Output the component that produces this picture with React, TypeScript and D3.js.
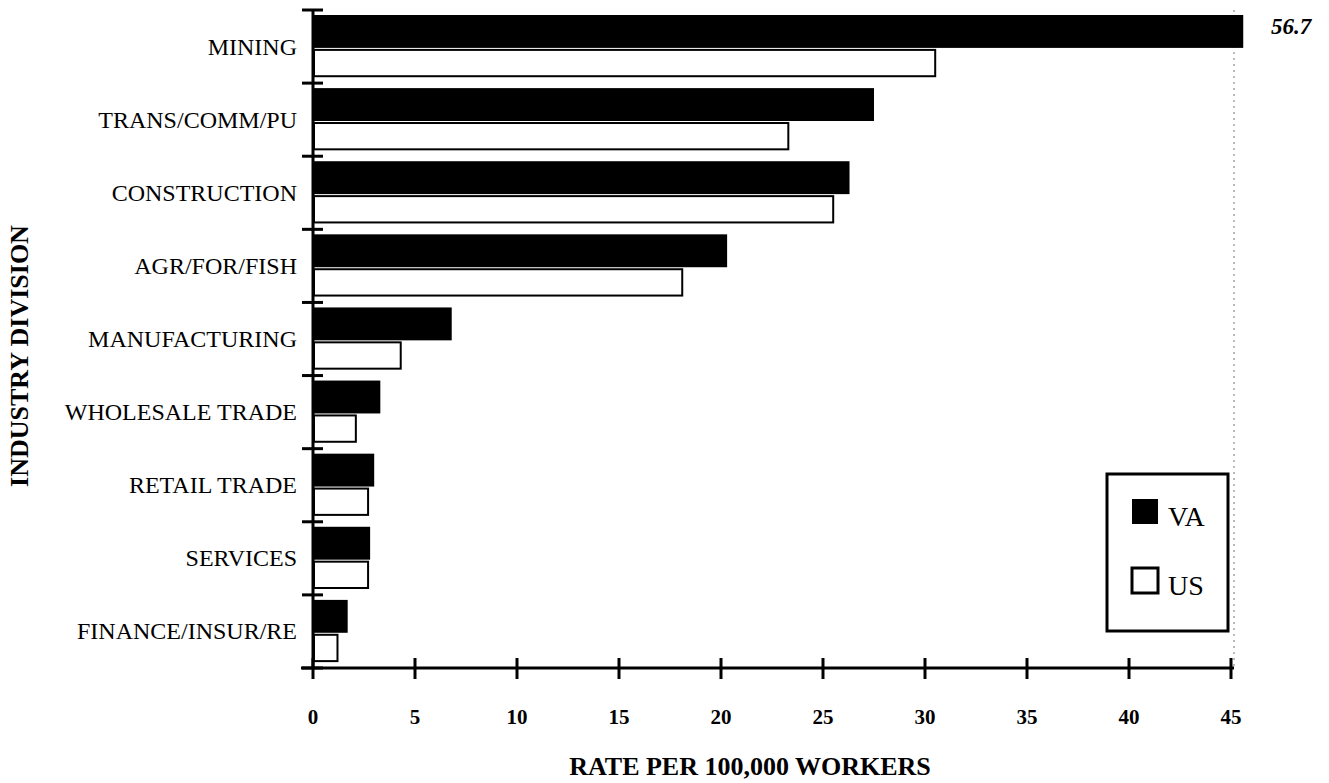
import React from 'react';
import * as d3 from 'd3';

const categories = [
  'MINING',
  'TRANS/COMM/PU',
  'CONSTRUCTION',
  'AGR/FOR/FISH',
  'MANUFACTURING',
  'WHOLESALE TRADE',
  'RETAIL TRADE',
  'SERVICES',
  'FINANCE/INSUR/RE',
];
const vaRates = [56.7, 27.5, 26.3, 20.3, 6.8, 3.3, 3.0, 2.8, 1.7];
const usRates = [30.5, 23.3, 25.5, 18.1, 4.3, 2.1, 2.7, 2.7, 1.2];
const xTicks = [0, 5, 10, 15, 20, 25, 30, 35, 40, 45];
const seriesNames = ['VA', 'US'];

const W = 1329;
const H = 783;
const left = 313;
const right = 1231;
const top = 10;
const bottom = 668;
const font = '"Liberation Serif", "Times New Roman", serif';

const App: React.FC = () => {
  const x = d3.scaleLinear().domain([0, 45]).range([left, right]);
  const y = d3.scaleBand<string>().domain(categories).range([top, bottom]);
  const band = y.bandwidth();
  // truncated bar for values past the axis end
  const clip = (v: number) => x(Math.min(v, 45.6));

  return (
    <svg
      width={W}
      height={H}
      style={{ position: 'absolute', left: 0, top: 0, background: '#fff' }}
      fontFamily={font}
    >
      {/* faint dotted right border */}
      <line x1={right + 3} x2={right + 3} y1={top} y2={bottom} stroke="#777" strokeWidth={1} strokeDasharray="2 4" />

      {categories.map((c, i) => {
        const y0 = y(c)!;
        return (
          <g key={c}>
            <rect x={left} y={y0 + 5} width={clip(vaRates[i]) - left} height={band * 0.45} fill="#000" />
            <rect
              x={left + 1}
              y={y0 + 5 + band * 0.45 + 2}
              width={x(usRates[i]) - left - 1}
              height={band * 0.36}
              fill="#fff"
              stroke="#000"
              strokeWidth={2}
            />
            <text x={297} y={y0 + band / 2 + 8} textAnchor="end" fontSize={24}>
              {c}
            </text>
          </g>
        );
      })}

      <text x={1291} y={34} textAnchor="middle" fontSize={23} fontWeight="bold" fontStyle="italic">
        {vaRates[0].toFixed(1)}
      </text>

      {/* y axis */}
      <line x1={left} x2={left} y1={top} y2={bottom} stroke="#000" strokeWidth={3} />
      {d3.range(categories.length + 1).map((k) => {
        const yy = top + k * band;
        return <line key={k} x1={left - 11} x2={left + 10} y1={yy} y2={yy} stroke="#000" strokeWidth={3} />;
      })}

      {/* x axis */}
      <line x1={left - 12} x2={right + 3} y1={bottom} y2={bottom} stroke="#000" strokeWidth={3} />
      {xTicks.map((t) => (
        <g key={t}>
          <line x1={x(t)} x2={x(t)} y1={bottom - 10} y2={bottom + 11} stroke="#000" strokeWidth={3} />
          <text x={x(t)} y={724} textAnchor="middle" fontSize={21} fontWeight="bold">
            {t}
          </text>
        </g>
      ))}

      <text x={750} y={775} textAnchor="middle" fontSize={26} fontWeight="bold">
        RATE PER 100,000 WORKERS
      </text>
      <text
        transform="translate(28,356) rotate(-90)"
        textAnchor="middle"
        fontSize={26}
        fontWeight="bold"
      >
        INDUSTRY DIVISION
      </text>

      {/* legend */}
      <rect x={1107} y={474} width={121} height={157} fill="#fff" stroke="#000" strokeWidth={3} />
      {seriesNames.map((s, i) => (
        <g key={s}>
          <rect
            x={1132}
            y={499 + i * 69}
            width={26}
            height={25}
            fill={i === 0 ? '#000' : '#fff'}
            stroke="#000"
            strokeWidth={i === 0 ? 0 : 3}
          />
          <text x={1168} y={526 + i * 69} fontSize={28}>
            {s}
          </text>
        </g>
      ))}
    </svg>
  );
};

export default App;
